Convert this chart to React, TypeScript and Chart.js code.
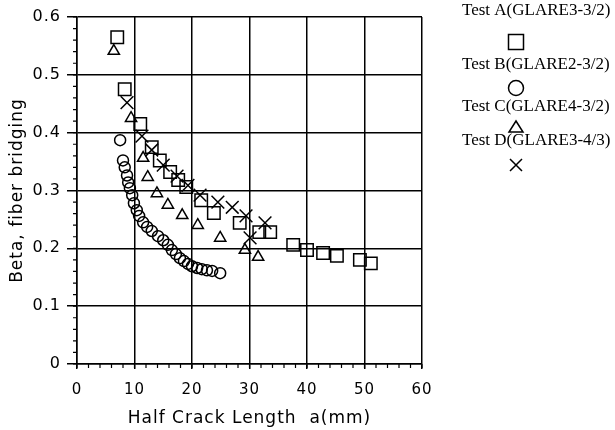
import { useEffect, useRef } from "react";
import { Chart, registerables } from "chart.js";

Chart.register(...registerables);

// Fiber bridging factor Beta versus half crack length a (mm)
const seriesNames = [
  "Test A(GLARE3-3/2)",
  "Test B(GLARE2-3/2)",
  "Test C(GLARE4-3/2)",
  "Test D(GLARE3-4/3)",
];

const testA_a = [7.0, 8.3, 11.0, 13.0, 14.4, 16.2, 17.6, 19.0, 21.6, 23.8, 28.3, 31.7, 33.6, 37.6, 40.0, 42.8, 45.2, 49.2, 51.1];
const testA_beta = [0.565, 0.475, 0.415, 0.375, 0.352, 0.332, 0.318, 0.306, 0.283, 0.261, 0.244, 0.228, 0.228, 0.206, 0.197, 0.192, 0.187, 0.18, 0.174];

const testB_a = [7.5, 8.0, 8.3, 8.7, 8.9, 9.2, 9.6, 9.9, 10.4, 10.8, 11.5, 12.2, 13.0, 14.1, 15.0, 15.8, 16.5, 17.2, 17.9, 18.6, 19.3, 20.0, 20.9, 21.7, 22.6, 23.5, 24.9];
const testB_beta = [0.387, 0.352, 0.34, 0.326, 0.314, 0.304, 0.292, 0.278, 0.266, 0.256, 0.245, 0.237, 0.23, 0.221, 0.214, 0.206, 0.197, 0.19, 0.183, 0.178, 0.173, 0.169, 0.166, 0.164, 0.162, 0.161, 0.157];

const testC_a = [6.4, 9.4, 11.5, 12.3, 13.9, 15.8, 18.3, 21.0, 24.9, 29.2, 31.5];
const testC_beta = [0.541, 0.425, 0.356, 0.323, 0.295, 0.275, 0.257, 0.24, 0.218, 0.197, 0.185];

const testD_a = [8.7, 11.3, 13.0, 15.0, 17.4, 19.3, 21.4, 24.5, 27.0, 29.4, 32.7, 30.1];
const testD_beta = [0.452, 0.394, 0.37, 0.344, 0.325, 0.309, 0.292, 0.28, 0.271, 0.256, 0.244, 0.218];

const xTicks = [0, 10, 20, 30, 40, 50, 60];
const yTicks = [0, 0.1, 0.2, 0.3, 0.4, 0.5, 0.6];

const toPoints = (xs: number[], ys: number[]) => xs.map((x, i) => ({ x, y: ys[i] }));

// slightly spaced lettering for the axis text
const spacedText = {
  id: "spacedText",
  beforeDraw(chart: any) {
    chart.ctx.letterSpacing = "1px";
  },
  afterDraw(chart: any) {
    chart.ctx.letterSpacing = "0px";
  },
};

// small outward minor ticks: every 2 mm on x, every 0.02 on y
const minorTicks = {
  id: "minorTicks",
  afterDraw(chart: any) {
    const { ctx, scales } = chart;
    const xs = scales.x;
    const ys = scales.y;
    ctx.save();
    ctx.strokeStyle = "#000";
    ctx.lineWidth = 1.2;
    ctx.beginPath();
    for (let v = 0; v <= 60.001; v += 2) {
      const px = xs.getPixelForValue(v);
      ctx.moveTo(px, ys.bottom);
      ctx.lineTo(px, ys.bottom + 4);
    }
    for (let v = 0; v <= 0.6001; v += 0.02) {
      const py = ys.getPixelForValue(v);
      ctx.moveTo(xs.left - 4, py);
      ctx.lineTo(xs.left, py);
    }
    ctx.stroke();
    ctx.restore();
  },
};

// legend to the right of the plot: name above, marker below
const stackedLegend = {
  id: "stackedLegend",
  afterDraw(chart: any) {
    const { ctx } = chart;
    const textY = [11, 65, 107, 141];
    const markY = [42, 88, 127, 165];
    const styles = ["rect", "circle", "triangle", "crossRot"];
    ctx.save();
    ctx.letterSpacing = "0px";
    ctx.fillStyle = "#000";
    ctx.strokeStyle = "#000";
    ctx.lineWidth = 1.5;
    ctx.font = '17px "Liberation Serif"';
    ctx.textBaseline = "middle";
    ctx.textAlign = "left";
    seriesNames.forEach((name, i) => {
      ctx.fillText(name, 462, textY[i]);
      const cx = 516;
      const cy = markY[i];
      ctx.beginPath();
      if (styles[i] === "rect") {
        ctx.rect(cx - 7.5, cy - 7.5, 15, 15);
      } else if (styles[i] === "circle") {
        ctx.arc(cx, cy, 7.5, 0, Math.PI * 2);
      } else if (styles[i] === "triangle") {
        ctx.moveTo(cx, cy - 6);
        ctx.lineTo(cx + 7, cy + 5);
        ctx.lineTo(cx - 7, cy + 5);
        ctx.closePath();
      } else {
        ctx.moveTo(cx - 6, cy - 6);
        ctx.lineTo(cx + 6, cy + 6);
        ctx.moveTo(cx + 6, cy - 6);
        ctx.lineTo(cx - 6, cy + 6);
      }
      ctx.stroke();
    });
    ctx.restore();
  },
};

export default function App() {
  const canvasRef = useRef<HTMLCanvasElement | null>(null);

  useEffect(() => {
    if (!canvasRef.current) return;
    const common = {
      backgroundColor: "rgba(0,0,0,0)",
      borderColor: "#000",
      borderWidth: 1.5,
      showLine: false,
    };
    const chart = new Chart(canvasRef.current, {
      type: "scatter",
      data: {
        datasets: [
          { ...common, label: seriesNames[0], data: toPoints(testA_a, testA_beta), pointStyle: "rect", pointRadius: 8.8 },
          { ...common, label: seriesNames[1], data: toPoints(testB_a, testB_beta), pointStyle: "circle", pointRadius: 5.5 },
          { ...common, label: seriesNames[2], data: toPoints(testC_a, testC_beta), pointStyle: "triangle", pointRadius: 6.5 },
          { ...common, label: seriesNames[3], data: toPoints(testD_a, testD_beta), pointStyle: "crossRot", pointRadius: 9 },
        ],
      },
      options: {
        responsive: false,
        animation: false,
        layout: { padding: { left: 0, right: 193, top: 17, bottom: 0 } },
        plugins: {
          legend: { display: false },
          tooltip: { enabled: false },
        },
        scales: {
          x: {
            type: "linear",
            min: 0,
            max: 60,
            afterBuildTicks: (scale: any) => {
              scale.ticks = xTicks.map((v) => ({ value: v }));
            },
            afterFit: (scale: any) => {
              scale.height = 66;
            },
            ticks: {
              color: "#000",
              font: { family: "DejaVu Sans", size: 15 },
              padding: 12,
              maxRotation: 0,
              callback: (v: any) => String(v),
            },
            grid: { color: "#000", lineWidth: 1.5, tickLength: 5 },
            border: { color: "#000", width: 1.5 },
            title: {
              display: true,
              text: "Half Crack Length  a(mm)",
              color: "#000",
              font: { family: "DejaVu Sans", size: 17 },
              padding: { top: 0, bottom: 1 },
            },
          },
          y: {
            type: "linear",
            min: 0,
            max: 0.6,
            afterBuildTicks: (scale: any) => {
              scale.ticks = yTicks.map((v) => ({ value: v }));
            },
            afterFit: (scale: any) => {
              scale.width = 77;
            },
            ticks: {
              color: "#000",
              font: { family: "DejaVu Sans", size: 16 },
              padding: 6,
              callback: (v: any) => (v === 0 ? "0" : Number(v).toFixed(1)),
            },
            grid: { color: "#000", lineWidth: 1.5, tickLength: 10 },
            border: { color: "#000", width: 1.5 },
            title: {
              display: true,
              text: "Beta, fiber bridging",
              color: "#000",
              font: { family: "DejaVu Sans", size: 17 },
              padding: { top: 7, bottom: 0 },
            },
          },
        },
      },
      plugins: [spacedText, minorTicks, stackedLegend],
    });
    return () => chart.destroy();
  }, []);

  return (
    <div style={{ position: "absolute", left: 0, top: 0, width: 615, height: 430, background: "#fff" }}>
      <canvas ref={canvasRef} width={615} height={430} style={{ width: 615, height: 430 }} />
    </div>
  );
}
